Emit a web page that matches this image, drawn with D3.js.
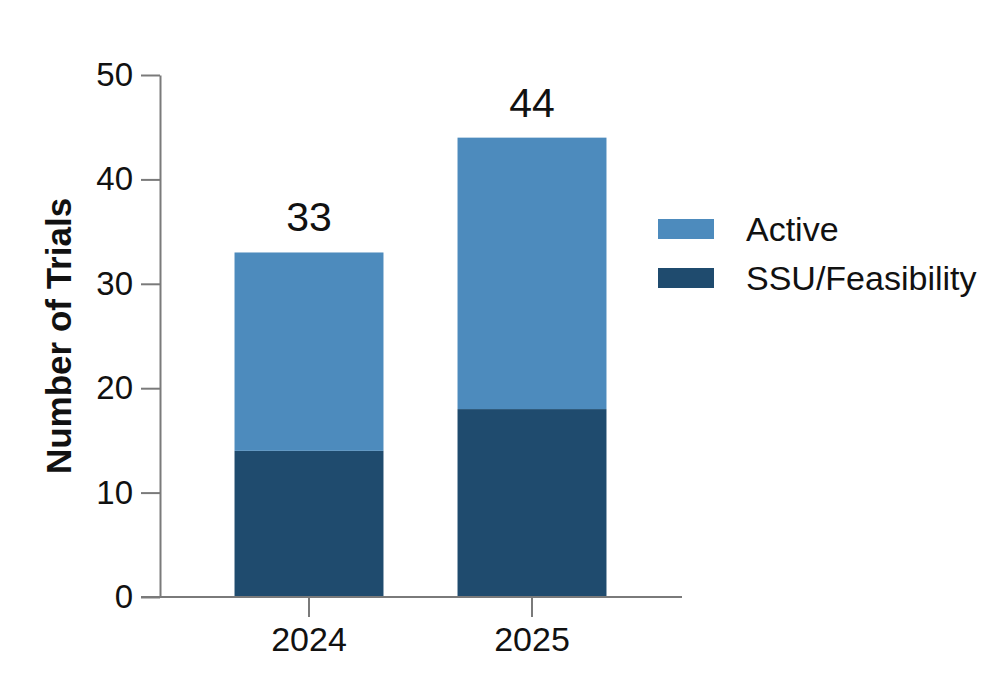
<!DOCTYPE html>
<html>
<head>
<meta charset="utf-8">
<script src="https://cdn.jsdelivr.net/npm/d3@7"></script>
<style>
  body { margin: 0; background: #fff; }
  text { font-family: "Liberation Sans", Arial, Helvetica, sans-serif; fill: #111; }
</style>
</head>
<body>
<div id="chart"></div>
<script>
// data
const years = ["2024", "2025"];
const ssu = [14, 18];
const active = [19, 26];
const totals = [33, 44];
const seriesNames = ["Active", "SSU/Feasibility"];
const yTicks = [0, 10, 20, 30, 40, 50];

const width = 1006;
const height = 698;
const colors = { "Active": "#4d8bbd", "SSU/Feasibility": "#1f4b6e" };
const axisColor = "#7a7a7a";

const svg = d3.select("#chart")
  .append("svg")
  .attr("width", width)
  .attr("height", height);

const y = d3.scaleLinear().domain([0, 50]).range([597, 75]);
const x = d3.scaleBand()
  .domain(years)
  .range([197.5, 643.5])
  .paddingInner(0.332)
  .paddingOuter(0.166);

// bars, stacked: SSU at the bottom, Active on top
const rows = years.map((yr, i) => ({ year: yr, ssu: ssu[i], active: active[i], total: totals[i] }));

svg.append("g").selectAll("rect.ssu")
  .data(rows)
  .join("rect")
  .attr("x", d => x(d.year))
  .attr("width", x.bandwidth())
  .attr("y", d => y(d.ssu))
  .attr("height", d => y(0) - y(d.ssu))
  .attr("fill", colors["SSU/Feasibility"]);

svg.append("g").selectAll("rect.active")
  .data(rows)
  .join("rect")
  .attr("x", d => x(d.year))
  .attr("width", x.bandwidth())
  .attr("y", d => y(d.ssu + d.active))
  .attr("height", d => y(d.ssu) - y(d.ssu + d.active))
  .attr("fill", colors["Active"]);

// totals above bars
svg.append("g").selectAll("text")
  .data(rows)
  .join("text")
  .attr("x", d => x(d.year) + x.bandwidth() / 2)
  .attr("y", d => y(d.total) - 21)
  .attr("text-anchor", "middle")
  .style("font-size", "41px")
  .text(d => d.total);

// y axis
const yAxis = svg.append("g")
  .attr("transform", "translate(160,0)")
  .call(d3.axisLeft(y).tickValues(yTicks).tickSize(19).tickPadding(8).tickSizeOuter(0));
yAxis.select(".domain").attr("stroke", axisColor).attr("stroke-width", 2);
yAxis.selectAll(".tick line").attr("stroke", axisColor).attr("stroke-width", 2);
yAxis.selectAll(".tick text").style("font-size", "33px").attr("fill", "#111");

// x axis
const xAxis = svg.append("g")
  .attr("transform", "translate(0,597)")
  .call(d3.axisBottom(x).tickSize(20).tickPadding(10).tickSizeOuter(0));
xAxis.select(".domain").attr("d", "M141,0H682").attr("stroke", axisColor).attr("stroke-width", 2);
xAxis.selectAll(".tick line").attr("stroke", axisColor).attr("stroke-width", 2);
xAxis.selectAll(".tick text").style("font-size", "34px").attr("fill", "#111");

// y axis title
svg.append("text")
  .attr("transform", "translate(71,336) rotate(-90)")
  .attr("text-anchor", "middle")
  .style("font-size", "35px")
  .style("font-weight", "bold")
  .text("Number of Trials");

// legend
const legend = svg.append("g").attr("transform", "translate(658,219)");
const item = legend.selectAll("g")
  .data(seriesNames)
  .join("g")
  .attr("transform", (d, i) => `translate(0,${i * 49})`);
item.append("rect")
  .attr("width", 56)
  .attr("height", 20)
  .attr("fill", d => colors[d]);
item.append("text")
  .attr("x", 88)
  .attr("y", 10)
  .attr("dy", "0.35em")
  .style("font-size", "34px")
  .text(d => d);
</script>
</body>
</html>
